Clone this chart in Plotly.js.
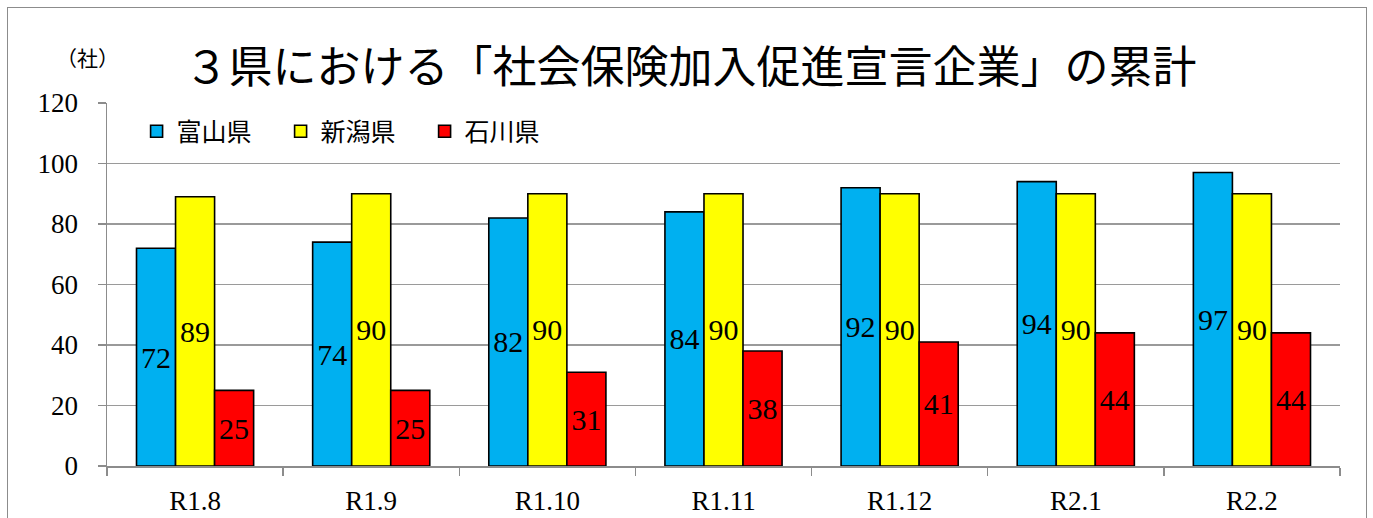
<!DOCTYPE html>
<html><head><meta charset="utf-8">
<script src="https://cdn.plot.ly/plotly-3.0.1.min.js"></script>
<style>
html,body{margin:0;padding:0;background:#fff;}
#wrap{position:relative;width:1373px;height:518px;overflow:hidden;}
#chart{position:absolute;left:0;top:0;width:1373px;height:518px;}
#frame{position:absolute;left:7px;top:7px;width:1360px;height:530px;border:1px solid #8c8c8c;pointer-events:none;box-sizing:border-box;}
</style></head>
<body>
<div id="wrap"><div id="chart"></div><div id="frame"></div></div>
<script>
const categories = ["R1.8","R1.9","R1.10","R1.11","R1.12","R2.1","R2.2"];
const toyama   = [72,74,82,84,92,94,97];
const niigata  = [89,90,90,90,90,90,90];
const ishikawa = [25,25,31,38,41,44,44];
const seriesNames = ["富山県","新潟県","石川県"];
const yTicks = [0,20,40,60,80,100,120];

const serif = "Liberation Serif, DejaVu Serif, serif";
const cjk = "Noto Sans CJK JP, sans-serif";
const colors = ["#00B0F0","#FFFF00","#FF0000"];

function bar(name, vals, color){
  return {
    type:"bar", name:name, x:categories, y:vals,
    marker:{color:color, line:{color:"#000", width:1.6}},
    text:vals.map(String), textposition:"inside", insidetextanchor:"middle",
    textangle:0, constraintext:"none",
    textfont:{family:serif, size:30, color:"#000"},
    hoverinfo:"x+y"
  };
}

const data = [bar(seriesNames[0], toyama, colors[0]), bar(seriesNames[1], niigata, colors[1]), bar(seriesNames[2], ishikawa, colors[2])];

const layout = {
  width:1373, height:518,
  margin:{l:107, r:33, t:103, b:52},
  paper_bgcolor:"#fff", plot_bgcolor:"#fff",
  barmode:"group", bargap:0.335, bargroupgap:0,
  title:{text:"３県における「社会保険加入促進宣言企業」の累計", font:{family:cjk, size:44, color:"#000"},
    x:0.503, xref:"container", y:1-68/518, yref:"container", yanchor:"middle", xanchor:"center"},
  showlegend:true,
  legend:{orientation:"h", x:0.024, xanchor:"left", y:0.985, yanchor:"top",
    font:{family:cjk, size:25, color:"#000"}, bgcolor:"rgba(0,0,0,0)", itemwidth:30,
    entrywidth:99, entrywidthmode:"pixels", traceorder:"normal"},
  xaxis:{type:"category", showgrid:false, showline:true, linecolor:"#8c8c8c", linewidth:1.5,
    ticks:"outside", tickson:"boundaries", ticklen:8, tickcolor:"#8c8c8c", tickwidth:1.5,
    ticklabelstandoff:10,
    tickfont:{family:serif, size:27, color:"#000"}, automargin:false},
  yaxis:{range:[0,120], tickvals:yTicks, ticktext:yTicks.map(String), showgrid:true, gridcolor:"#9a9a9a", gridwidth:1.2,
    showline:true, linecolor:"#8c8c8c", linewidth:1.5, ticks:"outside", ticklen:8, tickcolor:"#8c8c8c", tickwidth:1.5,
    ticklabelstandoff:14,
    tickfont:{family:serif, size:27, color:"#000"}, zeroline:false, automargin:false, fixedrange:true},
  annotations:[{text:"（社）", xref:"paper", yref:"paper", x:-0.016, y:1+ (103-57)/363, xanchor:"center", yanchor:"middle",
    showarrow:false, font:{family:cjk, size:21, color:"#000"}}]
};
Plotly.newPlot("chart", data, layout, {staticPlot:true, displayModeBar:false});
</script>
</body></html>
